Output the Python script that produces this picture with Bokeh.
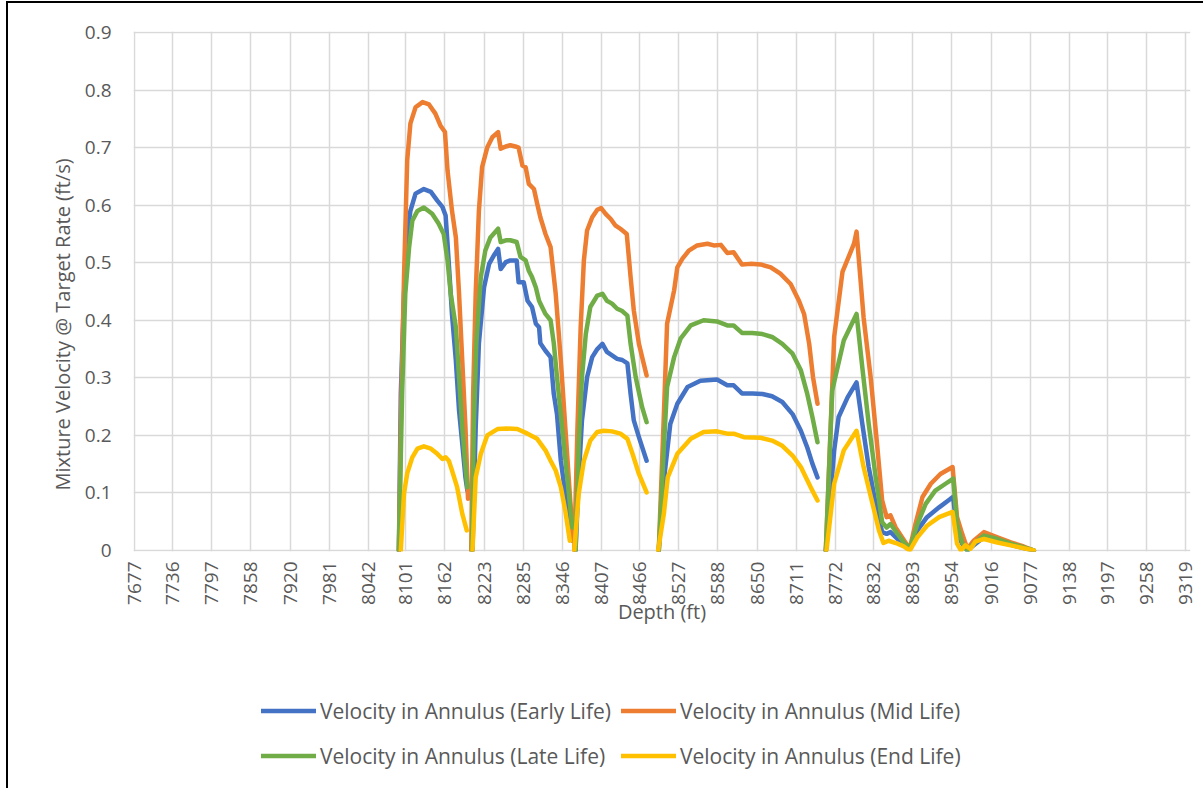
import math
from bokeh.plotting import figure
from bokeh.layouts import column
from bokeh.models import (FixedTicker, NumeralTickFormatter, Legend, LegendItem, Range1d, Title)
from bokeh.embed import file_html
from bokeh.resources import INLINE

NAN = float("nan")

x_ticks = [7677, 7736, 7797, 7858, 7920, 7981, 8042, 8101, 8162, 8223, 8285, 8346,
           8407, 8466, 8527, 8588, 8650, 8711, 8772, 8832, 8893, 8954, 9016, 9077,
           9138, 9197, 9258, 9319]
y_ticks = [0, 0.1, 0.2, 0.3, 0.4, 0.5, 0.6, 0.7, 0.8, 0.9]

series_names = ["Velocity in Annulus (Early Life)", "Velocity in Annulus (Mid Life)",
                "Velocity in Annulus (Late Life)", "Velocity in Annulus (End Life)"]
series_colors = ["#4472C4", "#ED7D31", "#70AD47", "#FFC000"]

# Early life (NaN breaks between perforated intervals)
early_depth = [8090, 8093, 8098, 8103, 8108, 8116, 8129, 8140, 8150, 8158, 8163, 8166, 8171, 8173, 8179, 8184, 8189, 8194, 8197, NAN,
               8205, 8210, 8215, 8223, 8231, 8238, 8245, 8249, 8257, 8264, 8274, 8277, 8285, 8291, 8298, 8304, 8309, 8311, 8319, 8327, 8332, 8337, 8343, 8350, 8358, 8362, NAN,
               8366, 8371, 8376, 8384, 8392, 8400, 8408, 8415, 8423, 8431, 8439, 8447, 8452, 8457, 8465, 8477, NAN,
               8496, 8504, 8514, 8525, 8541, 8561, 8587, 8603, 8613, 8626, 8642, 8658, 8673, 8689, 8705, 8718, 8728, 8736, 8744, NAN,
               8757, 8770, 8777, 8791, 8805, 8814, 8824, 8837, 8845, 8852, 8858, 8869, 8879, 8888, 8900, 8915, 8934, 8952, 8956, 8962, 8970, 8978, 8988, 9004, 9025, 9046, 9082]
early_vel = [0, 0.272, 0.446, 0.55, 0.59, 0.62, 0.628, 0.623, 0.608, 0.597, 0.582, 0.533, 0.446, 0.41, 0.33, 0.243, 0.186, 0.127, 0.104, NAN,
             0, 0.214, 0.36, 0.457, 0.498, 0.512, 0.524, 0.489, 0.501, 0.504, 0.504, 0.466, 0.466, 0.434, 0.423, 0.394, 0.388, 0.36, 0.347, 0.336, 0.272, 0.237, 0.156, 0.099, 0.04, 0.017, NAN,
             0, 0.127, 0.226, 0.301, 0.336, 0.35, 0.359, 0.345, 0.339, 0.333, 0.331, 0.325, 0.272, 0.226, 0.197, 0.156, NAN,
             0, 0.122, 0.22, 0.255, 0.284, 0.295, 0.297, 0.287, 0.287, 0.273, 0.273, 0.272, 0.268, 0.258, 0.237, 0.208, 0.179, 0.151, 0.127, NAN,
             0, 0.174, 0.232, 0.266, 0.292, 0.22, 0.145, 0.069, 0.032, 0.029, 0.032, 0.02, 0.012, 0.003, 0.035, 0.058, 0.075, 0.09, 0.093, 0.029, 0.012, 0, 0.009, 0.023, 0.017, 0.01, 0]

# Mid life
mid_depth = [8090, 8093, 8098, 8103, 8108, 8116, 8127, 8137, 8147, 8155, 8162, 8166, 8173, 8179, 8184, 8189, 8194, 8198, NAN,
             8203, 8206, 8210, 8215, 8220, 8228, 8236, 8245, 8249, 8257, 8264, 8272, 8277, 8283, 8288, 8293, 8301, 8306, 8311, 8319, 8327, 8335, 8343, 8350, 8357, 8362, NAN,
             8364, 8369, 8374, 8379, 8384, 8392, 8400, 8406, 8413, 8421, 8428, 8436, 8446, 8452, 8457, 8465, 8477, NAN,
             8496, 8504, 8509, 8520, 8525, 8533, 8543, 8556, 8572, 8582, 8593, 8603, 8613, 8626, 8639, 8655, 8671, 8686, 8702, 8715, 8723, 8731, 8737, 8744, NAN,
             8757, 8770, 8783, 8801, 8805, 8816, 8827, 8837, 8845, 8852, 8858, 8866, 8876, 8888, 8897, 8908, 8921, 8936, 8955, 8962, 8970, 8978, 8988, 9004, 9025, 9046, 9066, 9082]
mid_vel = [0, 0.214, 0.475, 0.678, 0.742, 0.770, 0.779, 0.775, 0.759, 0.738, 0.727, 0.66, 0.59, 0.544, 0.446, 0.33, 0.214, 0.09, NAN,
           0, 0.272, 0.446, 0.59, 0.666, 0.70, 0.718, 0.727, 0.698, 0.702, 0.704, 0.702, 0.70, 0.669, 0.666, 0.637, 0.628, 0.603, 0.579, 0.55, 0.527, 0.446, 0.33, 0.214, 0.099, 0.017, NAN,
           0, 0.214, 0.388, 0.504, 0.556, 0.579, 0.592, 0.595, 0.585, 0.576, 0.565, 0.559, 0.55, 0.475, 0.417, 0.359, 0.304, NAN,
           0, 0.237, 0.394, 0.452, 0.492, 0.507, 0.521, 0.53, 0.533, 0.53, 0.531, 0.517, 0.518, 0.497, 0.498, 0.497, 0.492, 0.481, 0.463, 0.434, 0.411, 0.359, 0.301, 0.255, NAN,
           0, 0.371, 0.484, 0.533, 0.554, 0.405, 0.301, 0.185, 0.087, 0.058, 0.061, 0.04, 0.023, 0.003, 0.046, 0.093, 0.116, 0.133, 0.145, 0.058, 0.029, 0.003, 0.017, 0.032, 0.023, 0.014, 0.007, 0]

# Late life
late_depth = [8090, 8095, 8100, 8106, 8111, 8119, 8129, 8142, 8152, 8160, 8166, 8171, 8179, 8184, 8189, 8194, 8197, NAN,
              8204, 8207, 8211, 8218, 8225, 8233, 8245, 8249, 8257, 8264, 8274, 8280, 8288, 8293, 8298, 8304, 8309, 8311, 8319, 8327, 8332, 8337, 8345, 8353, 8361, NAN,
              8366, 8371, 8376, 8382, 8389, 8400, 8408, 8415, 8423, 8431, 8439, 8447, 8452, 8460, 8470, 8477, NAN,
              8496, 8504, 8509, 8520, 8530, 8546, 8566, 8587, 8603, 8613, 8626, 8642, 8658, 8673, 8689, 8705, 8718, 8728, 8736, 8744, NAN,
              8757, 8767, 8785, 8805, 8814, 8824, 8835, 8845, 8852, 8858, 8869, 8879, 8888, 8900, 8913, 8928, 8944, 8956, 8962, 8970, 8978, 8988, 9004, 9025, 9046, 9082]
late_vel = [0, 0.272, 0.446, 0.527, 0.573, 0.59, 0.596, 0.585, 0.568, 0.55, 0.504, 0.446, 0.388, 0.301, 0.214, 0.145, 0.11, NAN,
            0, 0.214, 0.36, 0.475, 0.521, 0.544, 0.559, 0.536, 0.539, 0.539, 0.536, 0.51, 0.504, 0.486, 0.475, 0.457, 0.434, 0.429, 0.411, 0.40, 0.36, 0.301, 0.214, 0.127, 0.04, NAN,
            0, 0.185, 0.301, 0.376, 0.423, 0.443, 0.446, 0.434, 0.429, 0.42, 0.416, 0.408, 0.359, 0.301, 0.249, 0.223, NAN,
            0, 0.18, 0.284, 0.336, 0.368, 0.391, 0.40, 0.398, 0.391, 0.391, 0.378, 0.378, 0.376, 0.371, 0.359, 0.342, 0.313, 0.272, 0.232, 0.188, NAN,
            0, 0.278, 0.365, 0.411, 0.318, 0.22, 0.127, 0.049, 0.04, 0.046, 0.029, 0.014, 0.003, 0.046, 0.081, 0.104, 0.116, 0.125, 0.046, 0.014, 0, 0.012, 0.026, 0.02, 0.012, 0]

# End life
end_depth = [8093, 8098, 8103, 8111, 8119, 8129, 8140, 8150, 8158, 8163, 8168, 8173, 8181, 8189, 8196, NAN,
             8205, 8210, 8218, 8228, 8244, 8259, 8275, 8291, 8306, 8319, 8327, 8335, 8343, 8350, 8357, NAN,
             8364, 8371, 8379, 8389, 8400, 8410, 8423, 8436, 8447, 8455, 8465, 8477, NAN,
             8495, 8504, 8510, 8525, 8546, 8566, 8587, 8603, 8613, 8629, 8655, 8673, 8689, 8705, 8718, 8728, 8736, 8744, NAN,
             8758, 8770, 8785, 8805, 8816, 8830, 8840, 8847, 8855, 8869, 8879, 8888, 8900, 8915, 8934, 8955, 8962, 8968, 8975, 8983, 8991, 9004, 9025, 9046, 9082]
end_vel = [0, 0.099, 0.134, 0.162, 0.177, 0.181, 0.177, 0.168, 0.159, 0.162, 0.156, 0.139, 0.11, 0.064, 0.035, NAN,
           0, 0.127, 0.168, 0.20, 0.211, 0.212, 0.211, 0.203, 0.194, 0.174, 0.156, 0.139, 0.11, 0.069, 0.017, NAN,
           0, 0.099, 0.156, 0.191, 0.206, 0.208, 0.207, 0.203, 0.194, 0.168, 0.133, 0.101, NAN,
           0, 0.064, 0.127, 0.168, 0.194, 0.206, 0.207, 0.203, 0.203, 0.197, 0.196, 0.191, 0.182, 0.165, 0.145, 0.122, 0.104, 0.087, NAN,
           0, 0.116, 0.174, 0.208, 0.145, 0.081, 0.035, 0.013, 0.017, 0.012, 0.007, 0, 0.023, 0.043, 0.058, 0.067, 0.012, 0, 0.009, 0.003, 0.016, 0.02, 0.014, 0.009, 0]

FONT = "Open Sans"
TXT = "#595959"
GRID = "#D9D9D9"

all_series = [(early_depth, early_vel), (mid_depth, mid_vel), (late_depth, late_vel), (end_depth, end_vel)]

# ---- main chart ----
p = figure(width=1195, height=640, output_backend="svg", toolbar_location=None,
           x_range=Range1d(7675.4, 9326.7), y_range=Range1d(-0.0017, 0.9017),
           min_border_left=125, min_border_right=13, min_border_top=28, min_border_bottom=92)
p.outline_line_color = None
p.background_fill_color = "white"
p.border_fill_color = "white"

p.xaxis.ticker = FixedTicker(ticks=x_ticks)
p.xaxis.formatter = NumeralTickFormatter(format="0")
p.yaxis.ticker = FixedTicker(ticks=y_ticks)
p.yaxis.formatter = NumeralTickFormatter(format="0.[0]")
for ax in (p.xaxis, p.yaxis):
    ax.axis_line_color = None
    ax.major_tick_line_color = None
    ax.minor_tick_line_color = None
    ax.major_tick_out = 0
    ax.major_label_text_font = FONT
    ax.major_label_text_font_size = "19px"
    ax.major_label_text_color = TXT
    ax.axis_label_text_font = FONT
    ax.axis_label_text_font_size = "20px"
    ax.axis_label_text_font_style = "normal"
    ax.axis_label_text_color = TXT
p.xaxis.major_label_orientation = math.pi / 2
p.xaxis.major_label_standoff = 10
p.xaxis.axis_label = "Depth (ft)"
p.xaxis.axis_label_standoff = -10
p.yaxis.major_label_standoff = 22

ytitle = Title(text="Mixture Velocity @ Target Rate (ft/s)", align="left", offset=61,
               standoff=12, text_font=FONT, text_font_size="20px",
               text_font_style="normal", text_color=TXT)
p.add_layout(ytitle, "left")

p.xgrid.grid_line_color = GRID
p.ygrid.grid_line_color = GRID
p.xgrid.grid_line_width = 1.5
p.ygrid.grid_line_width = 1.5

for (xs, ys), c in zip(all_series, series_colors):
    p.line(xs, ys, line_color=c, line_width=4.5, line_join="round", line_cap="round")

# ---- legend strip (series drawn off-view; only the legend keys show) ----
lg = figure(width=1195, height=145, output_backend="svg", toolbar_location=None,
            x_axis_type=None, y_axis_type=None,
            x_range=Range1d(0, 1), y_range=Range1d(0, 1),
            min_border_left=0, min_border_right=0, min_border_top=0, min_border_bottom=0)
lg.outline_line_color = None
lg.background_fill_color = "white"
lg.border_fill_color = "white"
keys = [lg.line(xs, ys, line_color=c, line_width=4.5, line_cap="round")
        for (xs, ys), c in zip(all_series, series_colors)]
items = [LegendItem(label=n, renderers=[r]) for n, r in zip(series_names, keys)]
legend = Legend(items=items, orientation="horizontal", ncols=2, location=(128, 15),
                padding=0, margin=0, spacing=10, glyph_width=55, glyph_height=35,
                label_standoff=4, label_text_font=FONT, label_text_font_size="21px",
                label_text_color=TXT, border_line_color=None, background_fill_alpha=0)
lg.add_layout(legend)

page = column(p, lg, spacing=0,
              styles={"margin-left": "6px", "margin-top": "1px",
                      "border-left": "2px solid #000000", "border-top": "2px solid #000000"})

open("out.html", "w").write(file_html(page, INLINE))
